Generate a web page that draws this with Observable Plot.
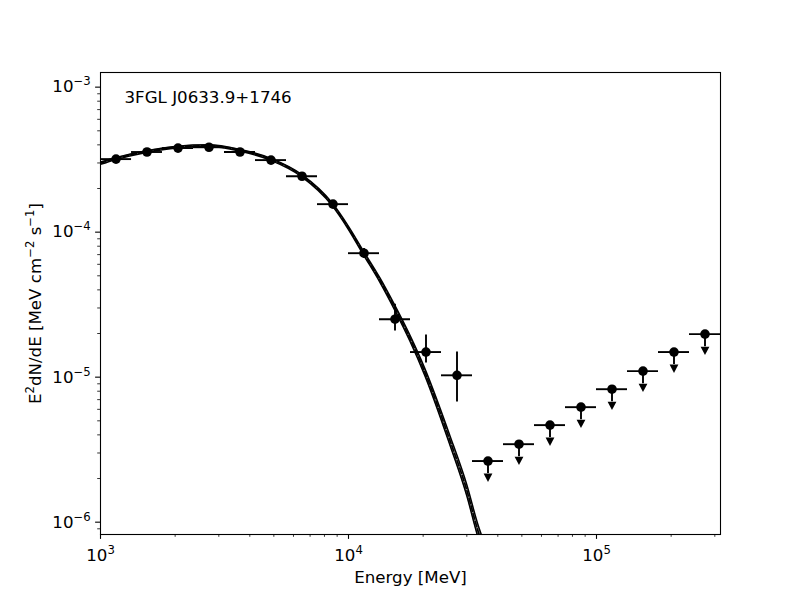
<!DOCTYPE html>
<html>
<head>
<meta charset="utf-8">
<script src="https://cdn.jsdelivr.net/npm/d3@7"></script>
<script src="https://cdn.jsdelivr.net/npm/@observablehq/plot@0.6"></script>
<style>
  body { margin: 0; background: #fff; }
</style>
</head>
<body>
<div id="chart"></div>
<script>
// ---- Spectral energy distribution of 3FGL J0633.9+1746 ----

const sourceName = "3FGL J0633.9+1746";
const xLabel = "Energy [MeV]";
const yLabel = "E^{2}dN/dE [MeV cm^{−2} s^{−1}]";

// Energy bins (MeV): lower edge, upper edge, centre
const binLo = [1000, 1334, 1778, 2371, 3162, 4217, 5623, 7499, 10000, 13335,
               17783, 23714, 31623, 42170, 56234, 74989, 100000, 133352, 177828, 237137];
const binHi = [1334, 1778, 2371, 3162, 4217, 5623, 7499, 10000, 13335, 17783,
               23714, 31623, 42170, 56234, 74989, 100000, 133352, 177828, 237137, 316228];
const binCenter = [1155, 1540, 2054, 2738, 3652, 4870, 6494, 8660, 11548, 15399,
                   20535, 27384, 36517, 48697, 64938, 86596, 115478, 153993, 205353, 273842];

// E^2 dN/dE per bin (MeV cm^-2 s^-1); the last eight bins are upper limits
const flux = [3.19e-4, 3.57e-4, 3.80e-4, 3.85e-4, 3.57e-4, 3.14e-4, 2.43e-4, 1.56e-4,
              7.16e-5, 2.51e-5, 1.49e-5, 1.03e-5,
              2.64e-6, 3.45e-6, 4.67e-6, 6.21e-6, 8.26e-6, 1.10e-5, 1.49e-5, 1.98e-5];
const isUpperLimit = [false, false, false, false, false, false, false, false,
                      false, false, false, false,
                      true, true, true, true, true, true, true, true];
// 1-sigma error bounds for the detected bins
const fluxErrLo = [3.12e-4, 3.51e-4, 3.74e-4, 3.78e-4, 3.50e-4, 3.06e-4, 2.35e-4, 1.49e-4,
                   6.60e-5, 2.08e-5, 1.25e-5, 6.73e-6];
const fluxErrHi = [3.26e-4, 3.63e-4, 3.86e-4, 3.92e-4, 3.64e-4, 3.22e-4, 2.51e-4, 1.63e-4,
                   7.70e-5, 3.18e-5, 1.95e-5, 1.49e-5];
// upper-limit arrows: stem drawn down to this fraction of the limit
const ulStem = 0.82;

// Best-fit spectral model and its 1-sigma butterfly (half width in dex)
const modelE = [1000, 1149, 1531, 2041, 2720, 3626, 4832, 6441, 8584, 9954,
                11440, 13390, 15250, 17680, 20320, 25620, 29990, 33200, 35100];
const modelFlux = [2.99e-4, 3.21e-4, 3.59e-4, 3.86e-4, 3.95e-4, 3.68e-4, 3.19e-4, 2.47e-4, 1.56e-4, 1.083e-4,
                   7.28e-5, 4.67e-5, 3.09e-5, 1.86e-5, 1.083e-5, 3.68e-6, 1.66e-6, 8.81e-7, 6.62e-7];
const modelBandDex = [0.008, 0.007, 0.006, 0.006, 0.006, 0.006, 0.007, 0.008, 0.010, 0.011,
                      0.013, 0.015, 0.017, 0.020, 0.024, 0.032, 0.038, 0.043, 0.046];

// Axis ticks
const xTickValues = [1e3, 1e4, 1e5];
const xTickLabels = ["10^{3}", "10^{4}", "10^{5}"];
const yTickValues = [1e-6, 1e-5, 1e-4, 1e-3];
const yTickLabels = ["10^{−6}", "10^{−5}", "10^{−4}", "10^{−3}"];
const minorMantissas = [2, 3, 4, 5, 6, 7, 8, 9];
const xMinorDecades = [1e3, 1e4, 1e5];
const yMinorDecades = [1e-7, 1e-6, 1e-5, 1e-4];

const xDomain = [1e3, Math.pow(10, 5.5)];
const yDomain = [Math.pow(10, -6.085), Math.pow(10, -2.899)];

// ---- derived tables ----
const inside = (v, [a, b]) => v >= a && v <= b;
const xMinor = xMinorDecades.flatMap(d => minorMantissas.map(m => m * d)).filter(v => inside(v, xDomain));
const yMinor = yMinorDecades.flatMap(d => minorMantissas.map(m => m * d)).filter(v => inside(v, yDomain));

const bins = binCenter.map((e, i) => ({
  e, lo: binLo[i], hi: binHi[i], f: flux[i], ul: isUpperLimit[i],
  fLo: fluxErrLo[i], fHi: fluxErrHi[i]
}));
const detections = bins.filter(d => !d.ul);
const limits = bins.filter(d => d.ul);
const model = modelE.map((e, i) => ({
  e, f: modelFlux[i],
  lo: modelFlux[i] * Math.pow(10, -modelBandDex[i]),
  hi: modelFlux[i] * Math.pow(10, modelBandDex[i])
}));

// filled downward caret with its base at the anchor point
const caretDown = {
  draw(context, size) {
    const r = Math.sqrt(size / Math.PI);
    context.moveTo(-r, 0);
    context.lineTo(r, 0);
    context.lineTo(0, 1.9 * r);
    context.closePath();
  }
};

const baseFont = 16.67;

const chart = Plot.plot({
  width: 800,
  height: 600,
  marginLeft: 100,
  marginRight: 80,
  marginTop: 72,
  marginBottom: 66,
  style: { fontFamily: "'DejaVu Sans', sans-serif", fontSize: baseFont + "px", background: "#fff", color: "#000" },
  x: { type: "log", domain: xDomain, label: null },
  y: { type: "log", domain: yDomain, label: null },
  marks: [
    // model butterfly: grey band, solid edges, dashed best fit
    Plot.areaY(model, { x: "e", y1: "lo", y2: "hi", fill: "#8a8a8a", curve: "monotone-x", clip: true }),
    Plot.line(model, { x: "e", y: "lo", stroke: "#000", strokeWidth: 1.5, curve: "monotone-x", clip: true }),
    Plot.line(model, { x: "e", y: "hi", stroke: "#000", strokeWidth: 1.5, curve: "monotone-x", clip: true }),
    Plot.line(model, { x: "e", y: "f", stroke: "#000", strokeWidth: 1.6, strokeDasharray: "5.5,2.4",
                       curve: "monotone-x", clip: true }),

    // energy bin widths
    Plot.ruleY(bins, { y: "f", x1: "lo", x2: "hi", stroke: "#000", strokeWidth: 1.9, clip: true }),
    // flux errors
    Plot.ruleX(detections, { x: "e", y1: "fLo", y2: "fHi", stroke: "#000", strokeWidth: 1.9 }),
    // upper-limit arrows
    Plot.ruleX(limits, { x: "e", y1: "f", y2: d => d.f * ulStem, stroke: "#000", strokeWidth: 1.9 }),
    Plot.dot(limits, { x: "e", y: d => d.f * ulStem, symbol: caretDown, r: 4.4, fill: "#000", stroke: "none" }),
    // data points
    Plot.dot(bins, { x: "e", y: "f", r: 4.8, fill: "#000", stroke: "none" }),

    Plot.frame({ stroke: "#000", strokeWidth: 1.1 }),

    // major and minor ticks
    Plot.axisX({ ticks: xTickValues, tickSize: 4.9, tickPadding: 9.3, strokeWidth: 1.1, label: null,
                 tickFormat: d => xTickLabels[xTickValues.indexOf(d)] }),
    Plot.axisX({ ticks: xMinor, tickSize: 2.8, strokeWidth: 0.8, label: null, tickFormat: () => "" }),
    Plot.axisY({ ticks: yTickValues, tickSize: 4.9, tickPadding: 4.9, strokeWidth: 1.1, label: null,
                 tickFormat: d => yTickLabels[yTickValues.indexOf(d)] }),
    Plot.axisY({ ticks: yMinor, tickSize: 2.8, strokeWidth: 0.8, label: null, tickFormat: () => "" }),

    // labels
    Plot.text([xLabel], { frameAnchor: "bottom", text: d => d, dy: 48, lineAnchor: "bottom", fill: "#000" }),
    Plot.text([yLabel], { frameAnchor: "left", text: d => d, dx: -60, rotate: -90, lineAnchor: "bottom",
                          textAnchor: "middle", fill: "#000" }),
    Plot.text([sourceName], { frameAnchor: "top-left", text: d => d, dx: 24, dy: 30.5, lineAnchor: "bottom",
                              textAnchor: "start", fill: "#000" })
  ]
});

// typeset "^{...}" as raised, smaller text
function typesetSuperscripts(svg, size) {
  const shift = 0.42 * size;
  d3.select(svg).selectAll("text").each(function () {
    const s = this.textContent;
    if (!s.includes("^{")) return;
    const parts = s.split(/(\^\{[^}]*\})/).filter(p => p.length);
    const sel = d3.select(this);
    sel.text(null);
    let raised = false;
    for (const p of parts) {
      const m = /^\^\{(.*)\}$/.exec(p);
      if (m) {
        sel.append("tspan").attr("dy", -shift).attr("font-size", (0.7 * size).toFixed(2)).text(m[1]);
        raised = true;
      } else {
        const t = sel.append("tspan").text(p);
        if (raised) { t.attr("dy", shift); raised = false; }
      }
    }
  });
}
typesetSuperscripts(chart, baseFont);

document.getElementById("chart").appendChild(chart);
</script>
</body>
</html>
